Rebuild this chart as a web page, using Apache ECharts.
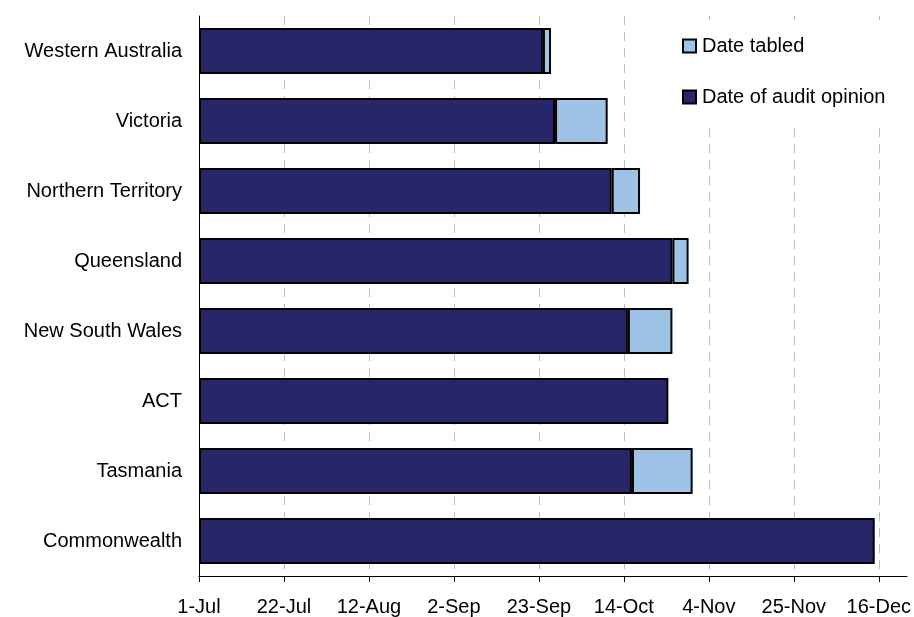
<!DOCTYPE html>
<html>
<head>
    <meta charset="utf-8">
    <script src="https://cdn.jsdelivr.net/npm/echarts@6/dist/echarts.min.js"></script>
</head>
<body style="margin:0;background:#fff">
    <div id="container" style="width:914px;height:617px"></div>
    <script type="text/javascript">
        // states, top to bottom
        var states = ['Western Australia', 'Victoria', 'Northern Territory', 'Queensland',
            'New South Wales', 'ACT', 'Tasmania', 'Commonwealth'];
        // days after 1 July
        var auditDays = [85, 88, 102, 117, 106, 116, 107, 167];
        // extra days until tabled
        var tabledExtra = [2, 13, 7, 4, 11, 0, 15, 0];
        var tickValues = [0, 21, 42, 63, 84, 105, 126, 147, 168];
        var tickLabels = ['1-Jul', '22-Jul', '12-Aug', '2-Sep', '23-Sep', '14-Oct', '4-Nov', '25-Nov', '16-Dec'];

        var myChart = echarts.init(document.getElementById('container'), null, { renderer: 'canvas' });
        var font = 'Liberation Sans, Arial, sans-serif';

        var option = {
            animation: false,
            textStyle: { fontFamily: font },
            grid: { left: 199, top: 16, right: 4, bottom: 41, containLabel: false },
            legend: {
                data: ['Date tabled', 'Date of audit opinion'],
                orient: 'vertical',
                left: 676,
                top: 20,
                itemGap: 31,
                itemWidth: 13,
                itemHeight: 13,
                icon: 'rect',
                padding: [16, 20, 16, 6],
                backgroundColor: '#fff',
                itemStyle: { borderColor: '#000', borderWidth: 2 },
                textStyle: { fontSize: 20, color: '#000', fontFamily: font, padding: [0, 0, 0, 1] }
            },
            xAxis: {
                type: 'value',
                min: 0,
                max: 175,
                axisLine: { show: true, lineStyle: { color: '#000', width: 1 } },
                axisTick: { show: true, length: 6, lineStyle: { color: '#000' }, customValues: tickValues },
                axisLabel: {
                    customValues: tickValues,
                    fontSize: 20,
                    color: '#000',
                    margin: 21,
                    formatter: function (v) { return tickLabels[tickValues.indexOf(v)] || ''; }
                },
                splitLine: { show: true, lineStyle: { color: '#bdbdbd', type: [9, 7], width: 1 } }
            },
            yAxis: {
                type: 'category',
                inverse: true,
                data: states,
                axisLine: { lineStyle: { color: '#000', width: 1 } },
                axisTick: { length: 6, lineStyle: { color: '#000' } },
                axisLabel: { fontSize: 20, color: '#000', margin: 17 }
            },
            series: [
                {
                    name: 'Date of audit opinion',
                    type: 'bar',
                    stack: 'd',
                    barWidth: 46,
                    itemStyle: { color: '#262669', borderColor: '#000', borderWidth: 2 },
                    data: auditDays
                },
                {
                    name: 'Date tabled',
                    type: 'bar',
                    stack: 'd',
                    barWidth: 46,
                    itemStyle: { color: '#9dc3e6', borderColor: '#000', borderWidth: 2 },
                    data: tabledExtra.map(function (v) { return v === 0 ? null : v; })
                }
            ]
        };

        myChart.setOption(option);
    </script>
</body>
</html>
